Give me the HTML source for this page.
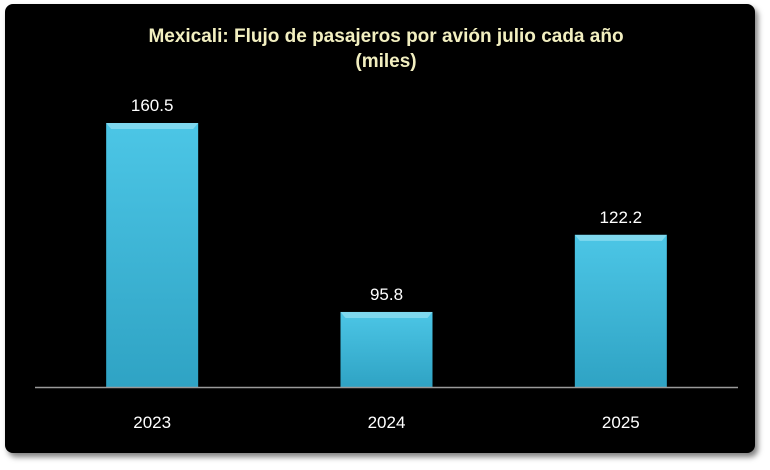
<!DOCTYPE html>
<html><head><meta charset="utf-8"><style>
body{margin:0;background:#fff;width:770px;height:470px;overflow:hidden}
svg{display:block}
text{font-family:"Liberation Sans",sans-serif}
</style></head><body>
<svg id="c" width="770" height="470">
<defs>
<linearGradient id="g" x1="0" y1="0" x2="0" y2="1"><stop offset="0" stop-color="#4cc6e6"/><stop offset="1" stop-color="#2fa3c4"/></linearGradient>
<filter id="sh" x="-5%" y="-5%" width="110%" height="115%"><feDropShadow dx="3" dy="4" stdDeviation="3" flood-color="#000" flood-opacity="0.5"/></filter>
</defs>
<rect x="5" y="4" width="750" height="449" rx="8" fill="#050505" filter="url(#sh)"/>
<text x="386" y="42" text-anchor="middle" font-size="19" font-weight="bold" fill="#f2efc0">Mexicali: Flujo de pasajeros por avión julio cada año</text>
<text x="386" y="67" text-anchor="middle" font-size="19" font-weight="bold" fill="#f2efc0">(miles)</text>
<g id="bars"></g>
<line x1="35" y1="387.5" x2="738" y2="387.5" stroke="#9a9a9a" stroke-width="1.5"/>
</svg>
<script>
const categories=["2023","2024","2025"];
const values=[160.5,95.8,122.2];
const labels=["160.5","95.8","122.2"];
const vMin=70.1, vMax=160.5;
const base=387, topY=123;
const y=v=>base-(v-vMin)/(vMax-vMin)*(base-topY);
const x0=35, x1=738, step=(x1-x0)/categories.length, bw=92;
const g=document.getElementById('bars');
const ns="http://www.w3.org/2000/svg";
categories.forEach((c,i)=>{
  const cx=x0+step*(i+0.5);
  const yt=y(values[i]);
  const r=document.createElementNS(ns,'rect');
  
  
  r.setAttribute('x',cx-bw/2);r.setAttribute('y',yt);r.setAttribute('width',bw);r.setAttribute('height',base-yt);
  r.setAttribute('fill','url(#g)');g.appendChild(r);
  const hl=document.createElementNS(ns,'polygon');
  
  
  hl.setAttribute('points',`${cx-bw/2},${yt} ${cx+bw/2},${yt} ${cx+bw/2-5},${yt+6} ${cx-bw/2+5},${yt+6}`);
  hl.setAttribute('fill','#7fd8ee');g.appendChild(hl);
  const t=document.createElementNS(ns,'text');
  
  
  t.setAttribute('x',cx);t.setAttribute('y',yt-12);t.setAttribute('text-anchor','middle');
  t.setAttribute('font-size','17');t.setAttribute('fill','#fff');t.textContent=labels[i];g.appendChild(t);
  const xl=document.createElementNS(ns,'text');
  
  
  xl.setAttribute('x',cx);xl.setAttribute('y',428);xl.setAttribute('text-anchor','middle');
  xl.setAttribute('font-size','17');xl.setAttribute('fill','#fff');xl.textContent=c;g.appendChild(xl);
});
</script>
</body></html>
